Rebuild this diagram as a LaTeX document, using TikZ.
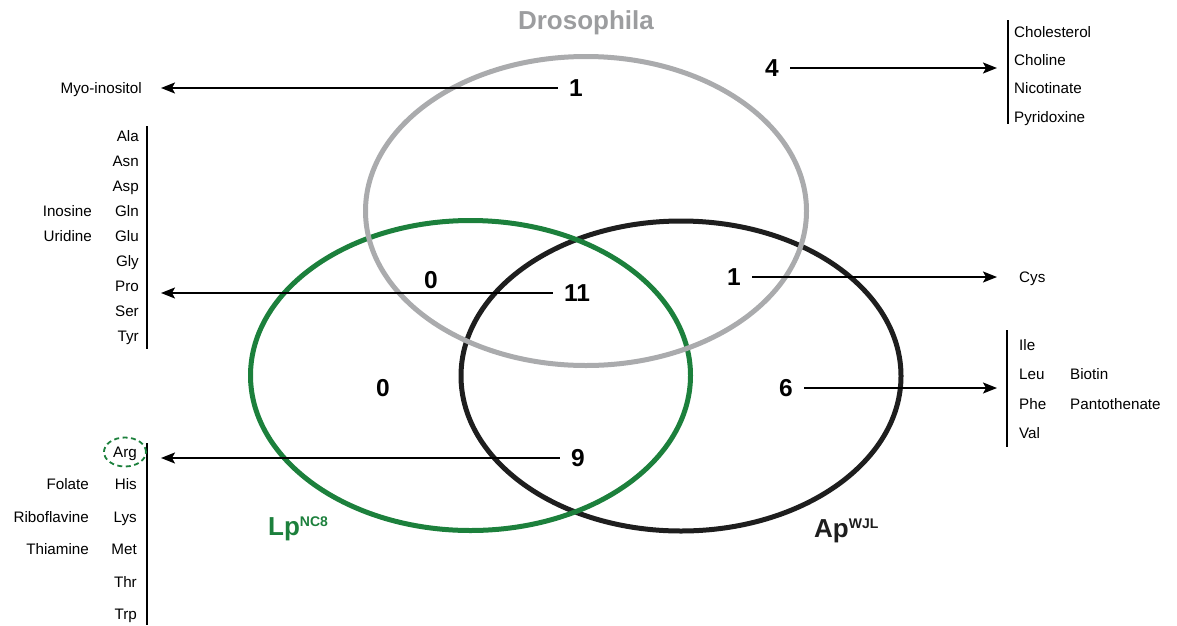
\documentclass[tikz,border=0pt]{standalone}
\usepackage{fontspec}
\setmainfont{Liberation Sans}
\usetikzlibrary{arrows.meta}
\definecolor{lpgreen}{RGB}{28,128,60}
\definecolor{drosgray}{RGB}{170,171,173}
\definecolor{apblack}{RGB}{30,30,30}
\tikzset{
  num/.style={font=\fontsize{24.5}{25}\selectfont\bfseries, inner xsep=11pt, inner ysep=1pt, text height=17.5pt, text depth=0pt},
  lbl/.style={font=\fontsize{15.2}{17}\selectfont, inner sep=0pt, text height=10.9pt, text depth=0pt},
  title/.style={font=\fontsize{26}{26}\selectfont\bfseries, inner sep=0pt},
  arr/.style={line width=1.6pt, -{Stealth[length=14pt,width=11pt,inset=3pt]}},
  bar/.style={line width=1.8pt},
  ring/.style={line width=5pt}
}

\begin{document}
\begin{tikzpicture}[x=1pt,y=-1pt]
\useasboundingbox (0,0) rectangle (1177,625);

\draw[ring, apblack] (681,376) ellipse [x radius=220pt, y radius=155pt];
\draw[ring, lpgreen] (470.5,375.5) ellipse [x radius=220pt, y radius=155pt];
\draw[ring, drosgray] (586,211) ellipse [x radius=220.5pt, y radius=154.5pt];

\node[title, text=drosgray!92!black] (tDros) at (586,23) {Drosophila};
\node[title, text=lpgreen, anchor=base west] (tLp) at (268,535) {Lp\raisebox{8.5pt}{\fontsize{14}{14}\selectfont NC8}};
\node[title, text=apblack, anchor=base west] (tAp) at (814,537) {Ap\raisebox{8.5pt}{\fontsize{14}{14}\selectfont WJL}};

\node[num] (nDros) at (576,88) {1};
\node[num] (nTop) at (772,68) {4};
\node[num] (nDrLp) at (431,280) {0};
\node[num] (nAll) at (577,293) {11};
\node[num] (nDrAp) at (734,277) {1};
\node[num] (nLp) at (383,388) {0};
\node[num] (nAp) at (786,388) {6};
\node[num] (nLpAp) at (578,458) {9};

\coordinate (tMyo) at (161,88);
\coordinate (tAmino) at (161,293);
\coordinate (tArg) at (161,458);
\coordinate (tVit) at (997,68);
\coordinate (tCys) at (997,277);
\coordinate (tBcaa) at (997,388);

\draw[arr] (nDros) -- (tMyo);
\draw[arr] (nAll) -- (tAmino);
\draw[arr] (nLpAp) -- (tArg);
\draw[arr] (nTop) -- (tVit);
\draw[arr] (nDrAp) -- (tCys);
\draw[arr] (nAp) -- (tBcaa);

\draw[bar] (147,126) -- (147,349);
\draw[bar] (147,443) -- (147,625);
\draw[bar] (1008,20) -- (1008,124);
\draw[bar] (1007,330) -- (1007,447);

\node[lbl, anchor=east] (lMyo) at (142,88) {Myo-inositol};
\node[lbl, anchor=east] (lAla) at (139,136) {Ala};
\node[lbl, anchor=east] (lAsn) at (139,161) {Asn};
\node[lbl, anchor=east] (lAsp) at (139,186) {Asp};
\node[lbl, anchor=east] (lGln) at (139,211) {Gln};
\node[lbl, anchor=east] (lGlu) at (139,236) {Glu};
\node[lbl, anchor=east] (lGly) at (139,261) {Gly};
\node[lbl, anchor=east] (lPro) at (139,286) {Pro};
\node[lbl, anchor=east] (lSer) at (139,311) {Ser};
\node[lbl, anchor=east] (lTyr) at (139,336) {Tyr};
\node[lbl, anchor=east] (lIno) at (92,211) {Inosine};
\node[lbl, anchor=east] (lUri) at (92,236) {Uridine};

\node[lbl, anchor=east] (lArg) at (137,452) {Arg};
\node[lbl, anchor=east] (lHis) at (137,484) {His};
\node[lbl, anchor=east] (lLys) at (137,517) {Lys};
\node[lbl, anchor=east] (lMet) at (137,549) {Met};
\node[lbl, anchor=east] (lThr) at (137,582) {Thr};
\node[lbl, anchor=east] (lTrp) at (137,614) {Trp};
\node[lbl, anchor=east] (lFol) at (89,484) {Folate};
\node[lbl, anchor=east] (lRib) at (89,517) {Riboflavine};
\node[lbl, anchor=east] (lThi) at (89,549) {Thiamine};
\draw[lpgreen, line width=1.8pt, dash pattern=on 5pt off 3.5pt] (lArg) ellipse [x radius=21pt, y radius=14.5pt];

\node[lbl, anchor=west] (lChol) at (1014,32) {Cholesterol};
\node[lbl, anchor=west] (lChl) at (1014,60) {Choline};
\node[lbl, anchor=west] (lNic) at (1014,88) {Nicotinate};
\node[lbl, anchor=west] (lPyr) at (1014,117) {Pyridoxine};

\node[lbl, anchor=west] (lCys) at (1019,277) {Cys};

\node[lbl, anchor=west] (lIle) at (1019,345) {Ile};
\node[lbl, anchor=west] (lLeu) at (1019,374) {Leu};
\node[lbl, anchor=west] (lPhe) at (1019,404) {Phe};
\node[lbl, anchor=west] (lVal) at (1019,433) {Val};
\node[lbl, anchor=west] (lBio) at (1070,374) {Biotin};
\node[lbl, anchor=west] (lPan) at (1070,404) {Pantothenate};
\end{tikzpicture}
\end{document}
